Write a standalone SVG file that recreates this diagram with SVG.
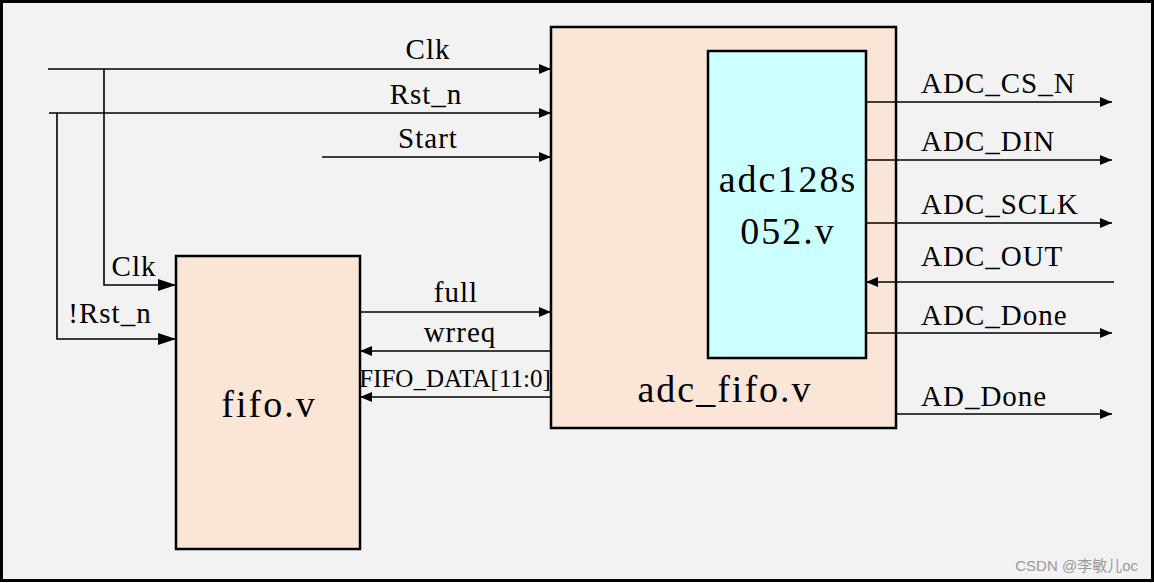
<svg xmlns="http://www.w3.org/2000/svg" width="1154" height="583" viewBox="0 0 1154 583">
<defs>
<marker id="ah" markerWidth="12" markerHeight="10" refX="12" refY="5" orient="auto" markerUnits="userSpaceOnUse">
<path d="M0,0 L12,5 L0,10 z" fill="#000"/>
</marker>
<marker id="ahb" markerWidth="18" markerHeight="12" refX="18" refY="6" orient="auto" markerUnits="userSpaceOnUse">
<path d="M0,0 L18,6 L0,12 z" fill="#000"/>
</marker>
<style>
.w{stroke:#000;stroke-width:1.6;fill:none}
.t{font-family:"Liberation Serif","Times New Roman",serif;font-size:29px;letter-spacing:1px;fill:#000}
.big{font-family:"Liberation Serif","Times New Roman",serif;font-size:38px;letter-spacing:2px;fill:#000}
.box{stroke:#000;stroke-width:2.5}
</style>
</defs>
<rect x="1.5" y="1.5" width="1151" height="579" fill="#f2f2f2" stroke="#000" stroke-width="3"/>
<g id="adc_fifo">
<rect class="box" x="551" y="27" width="345" height="401" fill="#fbe5d6"/>
<text class="big" x="725" y="402" text-anchor="middle">adc_fifo.v</text>
</g>
<g id="adc128s052">
<rect class="box" x="708" y="51" width="158" height="307" fill="#ccffff"/>
<text class="big" x="788" y="192" text-anchor="middle">adc128s</text>
<text class="big" x="788" y="244" text-anchor="middle">052.v</text>
</g>
<g id="fifo">
<rect class="box" x="176" y="256" width="184" height="293" fill="#fbe5d6"/>
<text class="big" x="269" y="417" text-anchor="middle">fifo.v</text>
</g>
<g id="connectors">
<line class="w" x1="48" y1="69" x2="551" y2="69" marker-end="url(#ah)"/>
<line class="w" x1="49" y1="113" x2="551" y2="113" marker-end="url(#ah)"/>
<line class="w" x1="322" y1="157" x2="551" y2="157" marker-end="url(#ah)"/>
<polyline class="w" points="104,69 104,285 176,285" stroke-width="2" marker-end="url(#ahb)"/>
<polyline class="w" points="57,113 57,339 176,339" marker-end="url(#ahb)"/>
<line class="w" x1="360" y1="312" x2="551" y2="312" marker-end="url(#ah)"/>
<line class="w" x1="551" y1="351" x2="360" y2="351" marker-end="url(#ah)"/>
<line class="w" x1="551" y1="397" x2="360" y2="397" marker-end="url(#ah)"/>
<line class="w" x1="866" y1="102" x2="1112" y2="102" marker-end="url(#ah)"/>
<line class="w" x1="866" y1="160" x2="1112" y2="160" marker-end="url(#ah)"/>
<line class="w" x1="866" y1="223" x2="1112" y2="223" marker-end="url(#ah)"/>
<line class="w" x1="1114" y1="282" x2="866" y2="282" marker-end="url(#ah)"/>
<line class="w" x1="866" y1="333" x2="1112" y2="333" marker-end="url(#ah)"/>
<line class="w" x1="896" y1="414" x2="1112" y2="414" marker-end="url(#ah)"/>
</g>
<g id="labels">
<text class="t" x="428" y="59" text-anchor="middle">Clk</text>
<text class="t" x="426" y="104" text-anchor="middle">Rst_n</text>
<text class="t" x="428" y="148" text-anchor="middle">Start</text>
<text class="t" x="134" y="276" text-anchor="middle">Clk</text>
<text class="t" x="110" y="323" text-anchor="middle">!Rst_n</text>
<text class="t" x="456" y="302" text-anchor="middle">full</text>
<text class="t" x="460" y="342" text-anchor="middle">wrreq</text>
<text class="t" x="455" y="387" text-anchor="middle" style="font-size:25px;letter-spacing:0">FIFO_DATA[11:0]</text>
<text class="t" x="921" y="93">ADC_CS_N</text>
<text class="t" x="921" y="151">ADC_DIN</text>
<text class="t" x="921" y="214">ADC_SCLK</text>
<text class="t" x="921" y="266">ADC_OUT</text>
<text class="t" x="921" y="325">ADC_Done</text>
<text class="t" x="921" y="406">AD_Done</text>
</g>
<text x="1138" y="571" text-anchor="end" style="font-family:'Liberation Sans','Noto Sans CJK SC',sans-serif;font-size:15px;fill:#999">CSDN @李敏儿oc</text>
</svg>
